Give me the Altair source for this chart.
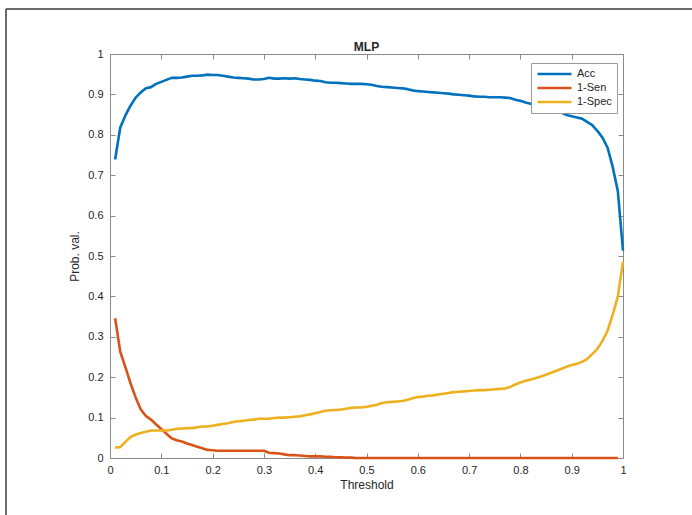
import altair as alt
import pandas as pd

# Threshold sweep 0.01 .. 1.00
thresholds = [round(0.01 * i, 2) for i in range(1, 101)]

acc = [
    0.739, 0.818, 0.848, 0.872, 0.892, 0.905, 0.915, 0.918, 0.926, 0.931,
    0.936, 0.941, 0.941, 0.942, 0.944, 0.946, 0.946, 0.947, 0.949, 0.948,
    0.948, 0.946, 0.944, 0.942, 0.941, 0.940, 0.939, 0.937, 0.937, 0.938,
    0.941, 0.939, 0.939, 0.940, 0.939, 0.940, 0.938, 0.937, 0.936, 0.934,
    0.933, 0.930, 0.929, 0.929, 0.928, 0.927, 0.926, 0.926, 0.926, 0.925,
    0.924, 0.921, 0.919, 0.918, 0.917, 0.916, 0.915, 0.913, 0.910, 0.908,
    0.907, 0.906, 0.905, 0.904, 0.903, 0.902, 0.900, 0.899, 0.898, 0.897,
    0.895, 0.894, 0.894, 0.893, 0.893, 0.893, 0.892, 0.891, 0.887, 0.884,
    0.880, 0.877, 0.874, 0.872, 0.869, 0.864, 0.859, 0.855, 0.849, 0.846,
    0.843, 0.840, 0.832, 0.824, 0.810, 0.793, 0.768, 0.720, 0.660, 0.513,
]

# 1 - sensitivity (defined up to 0.99)
one_minus_sen = [
    0.346, 0.263, 0.225, 0.185, 0.150, 0.120, 0.104, 0.095, 0.083, 0.072,
    0.060, 0.049, 0.044, 0.041, 0.036, 0.032, 0.028, 0.024, 0.020, 0.019,
    0.018, 0.018, 0.018, 0.018, 0.018, 0.018, 0.018, 0.018, 0.018, 0.018,
    0.013, 0.012, 0.011, 0.009, 0.007, 0.007, 0.006, 0.005, 0.004, 0.004,
    0.004, 0.003, 0.003, 0.002, 0.002, 0.001, 0.001, 0.000, 0.000, 0.000,
    0.000, 0.000, 0.000, 0.000, 0.000, 0.000, 0.000, 0.000, 0.000, 0.000,
    0.000, 0.000, 0.000, 0.000, 0.000, 0.000, 0.000, 0.000, 0.000, 0.000,
    0.000, 0.000, 0.000, 0.000, 0.000, 0.000, 0.000, 0.000, 0.000, 0.000,
    0.000, 0.000, 0.000, 0.000, 0.000, 0.000, 0.000, 0.000, 0.000, 0.000,
    0.000, 0.000, 0.000, 0.000, 0.000, 0.000, 0.000, 0.000, 0.000, None,
]

one_minus_spec = [
    0.026, 0.027, 0.040, 0.052, 0.058, 0.062, 0.065, 0.068, 0.068, 0.068,
    0.068, 0.070, 0.072, 0.073, 0.074, 0.074, 0.076, 0.078, 0.078, 0.080,
    0.082, 0.084, 0.086, 0.089, 0.091, 0.092, 0.094, 0.095, 0.097, 0.097,
    0.097, 0.099, 0.100, 0.100, 0.101, 0.102, 0.103, 0.106, 0.108, 0.111,
    0.114, 0.117, 0.118, 0.119, 0.120, 0.122, 0.124, 0.125, 0.125, 0.127,
    0.129, 0.132, 0.136, 0.138, 0.139, 0.140, 0.141, 0.144, 0.148, 0.151,
    0.152, 0.154, 0.155, 0.157, 0.159, 0.161, 0.163, 0.164, 0.165, 0.166,
    0.167, 0.168, 0.168, 0.169, 0.170, 0.171, 0.172, 0.176, 0.182, 0.187,
    0.191, 0.194, 0.198, 0.202, 0.206, 0.211, 0.216, 0.221, 0.226, 0.230,
    0.233, 0.238, 0.245, 0.257, 0.270, 0.290, 0.315, 0.355, 0.400, 0.486,
]

series_names = ["Acc", "1-Sen", "1-Spec"]
series_colors = ["#0072BD", "#D95319", "#EDB120"]
tick_values = [round(0.1 * i, 1) for i in range(11)]
chart_title = "MLP"

rows = []
for name, vals in zip(series_names, [acc, one_minus_sen, one_minus_spec]):
    for order, (t, v) in enumerate(zip(thresholds, vals)):
        if v is not None:
            rows.append({"Threshold": t, "value": v, "series": name, "order": order})
df = pd.DataFrame(rows)

W, H = 513, 404
FONT = "Liberation Sans"
TEXT = "#262626"
AXC = "#8a8a8a"
TICK = 5

xscale = alt.Scale(domain=[0, 1], nice=False, zero=False)
yscale = alt.Scale(domain=[0, 1], nice=False, zero=False)

# Curves, bottom/left labels and titles
lines = alt.Chart(df).mark_line(strokeWidth=2.6, strokeJoin="round", strokeCap="butt").encode(
    x=alt.X("Threshold:Q", scale=xscale,
            axis=alt.Axis(orient="bottom", values=tick_values, format="~g", ticks=False, tickSize=0,
                          domain=False, grid=False, labelPadding=6, title="Threshold",
                          titlePadding=4, labelFontSize=11, titleFontSize=12,
                          labelColor=TEXT, titleColor=TEXT, labelFont=FONT, titleFont=FONT,
                          titleFontWeight="normal", labelFlush=False)),
    y=alt.Y("value:Q", scale=yscale,
            axis=alt.Axis(orient="left", values=tick_values, format="~g", ticks=False, tickSize=0,
                          domain=False, grid=False, labelPadding=7, title="Prob. val.",
                          titlePadding=6, labelFontSize=11, titleFontSize=12,
                          labelColor=TEXT, titleColor=TEXT, labelFont=FONT, titleFont=FONT,
                          titleFontWeight="normal", labelFlush=False)),
    color=alt.Color("series:N",
                    scale=alt.Scale(domain=series_names, range=series_colors),
                    sort=series_names,
                    legend=alt.Legend(title=None, orient="none", legendX=421, legendY=9,
                                      symbolType="stroke", symbolSize=1156, symbolStrokeWidth=2.6,
                                      labelFontSize=11, labelFont=FONT, labelColor=TEXT,
                                      labelOffset=4, rowPadding=2, padding=5,
                                      strokeColor="#999999", fillColor="white",
                                      clipHeight=12)),
    detail="series:N",
    order="order:Q",
)


def tick_axis(orient):
    return alt.Axis(orient=orient, values=tick_values, labels=False, domain=False, grid=False,
                    ticks=True, tickSize=TICK, tickColor=AXC, tickWidth=1, offset=-TICK, title=None)


# Inward ticks on all four sides (axes shifted inward by the tick length)
ticks_bl = alt.Chart(df).mark_point(opacity=0).encode(
    x=alt.X("Threshold:Q", scale=xscale, axis=tick_axis("bottom")),
    y=alt.Y("value:Q", scale=yscale, axis=tick_axis("left")),
)
ticks_tr = alt.Chart(df).mark_point(opacity=0).encode(
    x=alt.X("Threshold:Q", scale=xscale, axis=tick_axis("top")),
    y=alt.Y("value:Q", scale=yscale, axis=tick_axis("right")),
)

# Plot title, centred just above the axes box
one_row = pd.DataFrame({"k": [0]})
title_mark = alt.Chart(one_row).mark_text(
    font=FONT, fontSize=12, fontWeight="bold", color=TEXT, align="center", baseline="alphabetic"
).encode(x=alt.value(W / 2), y=alt.value(-3), text=alt.value(chart_title))

# Figure frame (top and left edges)
frame_top = alt.Chart(one_row).mark_rule(color="#3a3a3a", strokeWidth=1.5).encode(
    x=alt.value(-104), x2=alt.value(582), y=alt.value(-45)
)
frame_left = alt.Chart(one_row).mark_rule(color="#3a3a3a", strokeWidth=1.5).encode(
    x=alt.value(-104), y=alt.value(-45), y2=alt.value(461)
)

chart = (
    alt.layer(lines, ticks_bl, ticks_tr, title_mark, frame_top, frame_left)
    .resolve_axis(x="independent", y="independent")
    .properties(
        width=W, height=H,
        autosize=alt.AutoSizeParams(type="none"),
        padding={"left": 110, "top": 54, "right": 69, "bottom": 57},
        background="white",
    )
    .configure_view(stroke=AXC, strokeWidth=1)
)

chart.save("out.html", embed_options={"renderer": "svg", "actions": False})
